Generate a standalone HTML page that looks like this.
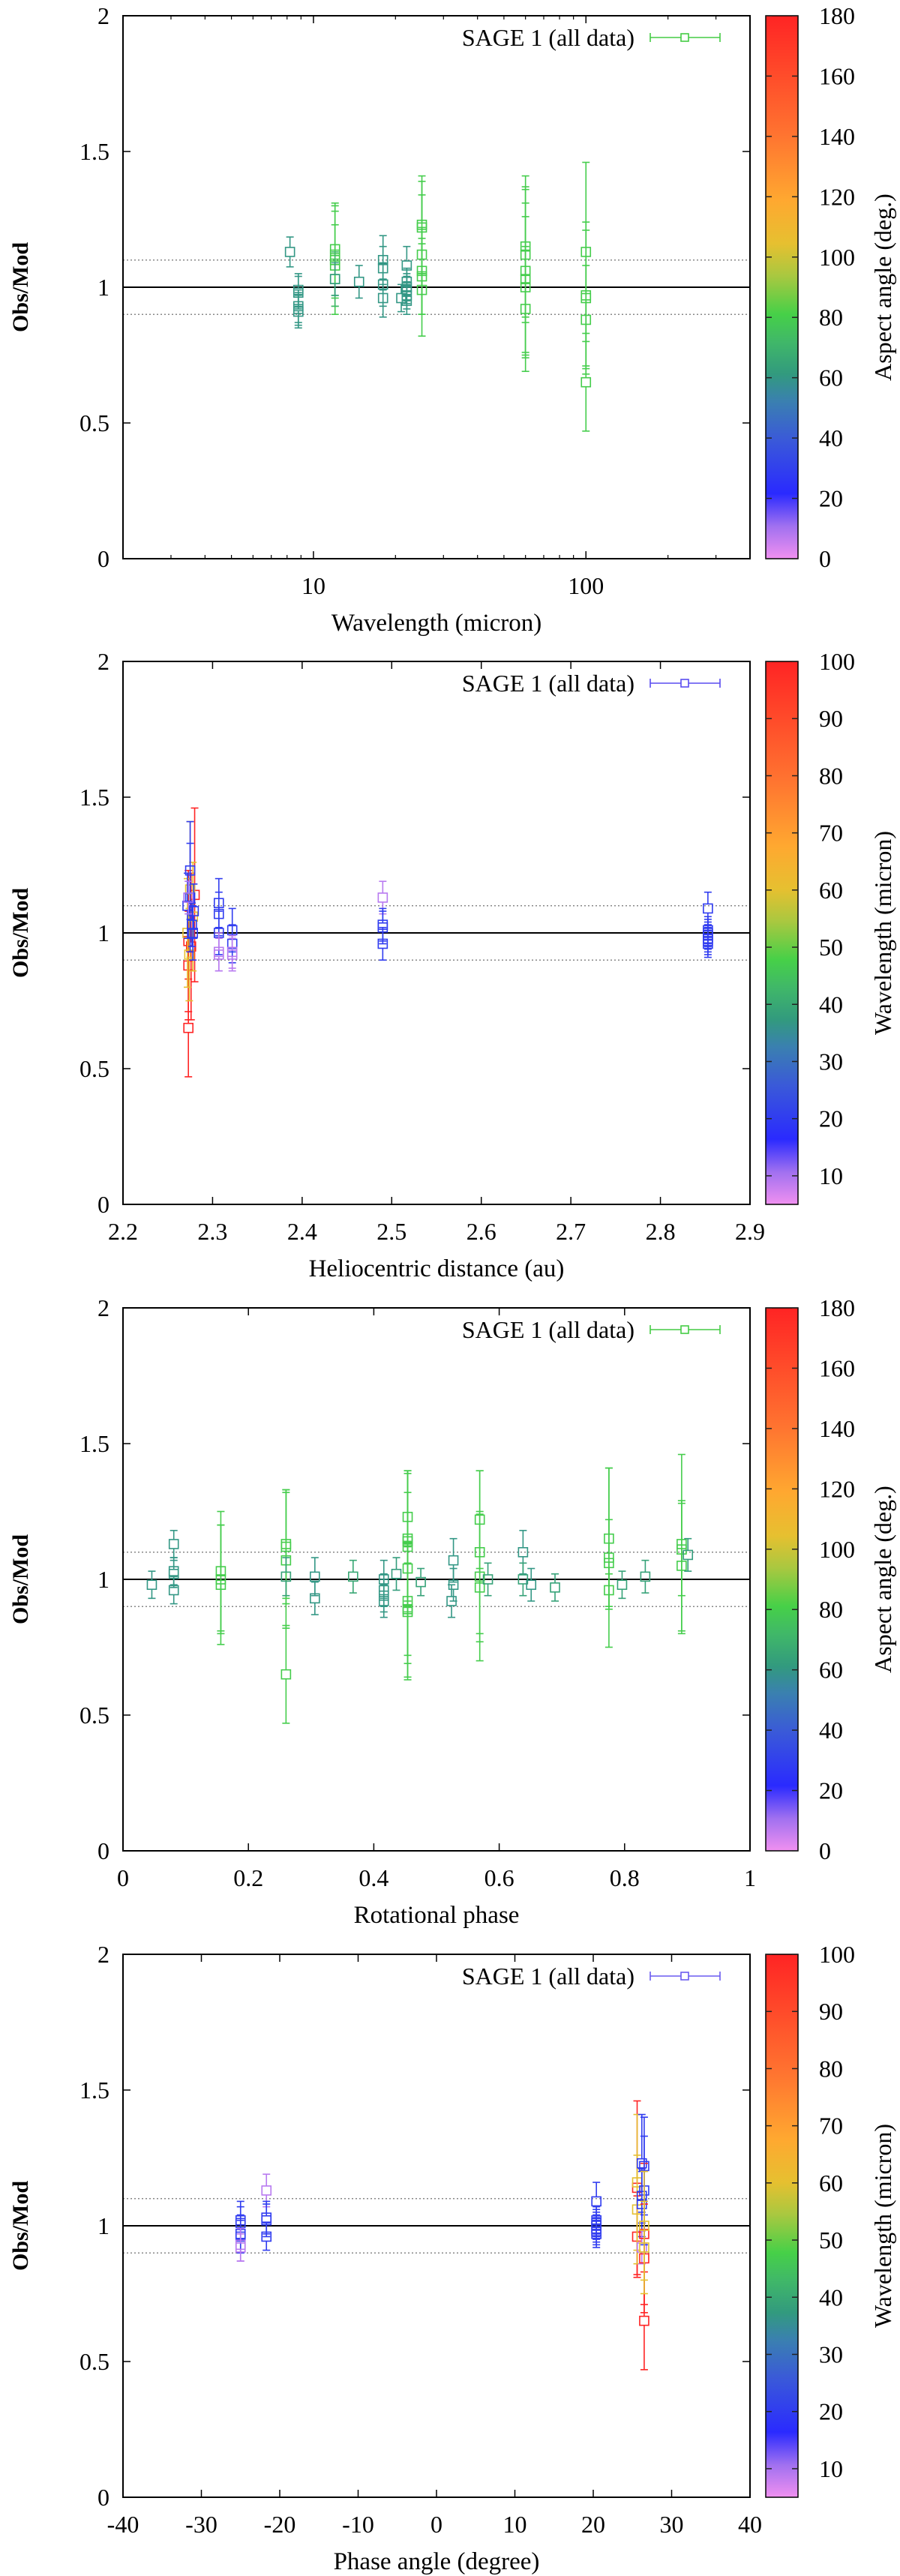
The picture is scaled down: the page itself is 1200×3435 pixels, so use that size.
<!DOCTYPE html>
<html><head><meta charset="utf-8"><style>
html,body{margin:0;padding:0;background:#fff}
svg{display:block}
text{font-family:"Liberation Serif",serif;fill:#000}
</style></head><body>
<svg id="fig" width="1200" height="3435" viewBox="0 0 1200 3435" xmlns="http://www.w3.org/2000/svg">
<defs>
<linearGradient id="cmap" x1="0" y1="1" x2="0" y2="0">
<stop offset="0" stop-color="#f090f0"/><stop offset="0.06" stop-color="#a070f0"/>
<stop offset="0.12" stop-color="#2a2aff"/><stop offset="0.22" stop-color="#3a5ad8"/>
<stop offset="0.29" stop-color="#3a80b0"/><stop offset="0.34" stop-color="#329a7e"/>
<stop offset="0.40" stop-color="#40b868"/><stop offset="0.45" stop-color="#46d048"/>
<stop offset="0.52" stop-color="#a8c840"/><stop offset="0.58" stop-color="#e6c030"/>
<stop offset="0.66" stop-color="#ffa830"/><stop offset="0.78" stop-color="#ff7430"/>
<stop offset="1" stop-color="#ff2424"/>
</linearGradient>
</defs>
</svg>
<script>
// Panel 1: wavelength vs Obs/Mod, colour = aspect angle
const p1_x=[8.2,8.8,8.8,8.8,8.8,8.8,12,12,12,12,12,12,14.7,18,18,18,18,21,22,22,22,22,22,22,25,25,25,25,25,25,60,60,60,60,60,60,100,100,100,100,100];
const p1_y=[1.13,0.98,0.99,0.93,0.92,0.91,1.14,1.12,1.10,1.08,1.03,1.03,1.02,1.10,1.07,1.01,0.96,0.96,1.08,1.02,1.0,0.99,0.97,0.95,1.23,1.22,1.12,1.06,1.04,0.99,1.15,1.12,1.06,1.03,1.0,0.92,1.13,0.97,0.96,0.88,0.65];
const p1_e=[0.055,0.06,0.06,0.06,0.06,0.06,0.17,0.16,0.2,0.15,0.1,0.06,0.06,0.09,0.08,0.08,0.07,0.05,0.07,0.05,0.05,0.05,0.05,0.05,0.18,0.17,0.22,0.16,0.14,0.17,0.26,0.25,0.3,0.28,0.26,0.23,0.33,0.27,0.25,0.2,0.18];
const p1_c=[60,60,60,60,60,60,80,80,80,80,72,62,60,60,60,60,60,60,60,60,60,60,60,60,80,80,80,80,80,80,80,80,80,80,80,80,80,80,80,80,80];
// Panel 2: heliocentric distance, colour = wavelength
const p2_x=[2.273,2.273,2.273,2.276,2.28,2.275,2.278,2.274,2.272,2.275,2.275,2.272,2.279,2.277,2.278,2.273,2.307,2.307,2.307,2.307,2.307,2.322,2.322,2.322,2.322,2.49,2.49,2.49,2.49,2.853,2.853,2.853,2.853,2.853,2.853,2.853];
const p2_y=[0.65,0.88,0.97,0.95,1.14,1.16,1.06,0.92,1.0,1.23,1.13,1.1,1.08,1.03,1.0,1.13,1.11,1.07,1.0,0.93,0.92,1.01,0.96,0.93,0.92,1.13,1.03,1.02,0.96,1.09,1.01,1.0,0.99,0.98,0.97,0.96];
const p2_e=[0.18,0.2,0.26,0.27,0.32,0.25,0.2,0.17,0.2,0.18,0.2,0.12,0.1,0.08,0.1,0.06,0.09,0.08,0.08,0.07,0.06,0.08,0.07,0.06,0.06,0.06,0.06,0.06,0.06,0.06,0.05,0.05,0.05,0.05,0.05,0.05];
const p2_c=[100,100,100,100,100,60,60,60,60,20,20,20,20,20,20,10,20,20,20,9,9,20,20,9,9,9,20,20,20,20,20,20,20,20,20,20];
// Panel 3: rotational phase, colour = aspect angle
const p3_x=[0.046,0.081,0.081,0.081,0.081,0.156,0.156,0.156,0.26,0.26,0.26,0.26,0.26,0.306,0.306,0.367,0.416,0.416,0.416,0.416,0.436,0.454,0.454,0.454,0.454,0.454,0.454,0.454,0.454,0.475,0.524,0.527,0.527,0.569,0.569,0.569,0.569,0.582,0.638,0.638,0.651,0.689,0.775,0.775,0.775,0.775,0.796,0.833,0.891,0.891,0.891,0.901];
const p3_y=[0.98,1.13,1.03,1.02,0.96,1.03,1.0,0.98,1.13,1.12,1.07,1.01,0.65,1.01,0.93,1.01,1.0,0.96,0.94,0.92,1.02,1.23,1.15,1.14,1.12,1.04,0.92,0.89,0.88,0.99,0.92,1.07,0.98,1.22,1.10,1.01,0.97,1.0,1.10,1.0,0.98,0.97,1.15,1.08,1.06,0.96,0.98,1.01,1.13,1.11,1.05,1.09];
const p3_e=[0.05,0.05,0.05,0.05,0.05,0.22,0.2,0.22,0.2,0.21,0.25,0.07,0.18,0.07,0.06,0.06,0.07,0.06,0.06,0.06,0.06,0.17,0.25,0.26,0.2,0.35,0.2,0.25,0.25,0.05,0.06,0.08,0.06,0.18,0.3,0.24,0.27,0.06,0.08,0.06,0.06,0.05,0.26,0.33,0.16,0.06,0.05,0.06,0.33,0.17,0.24,0.06];
const p3_c=[60,60,60,60,60,80,80,80,80,80,80,64,80,60,60,66,60,60,60,60,62,80,80,80,80,80,80,80,80,64,60,60,60,80,80,80,80,64,60,64,60,64,80,80,80,80,64,64,80,80,80,62];
// Panel 4: phase angle, colour = wavelength
const p4_x=[-25,-25,-25,-25,-25,-25,-21.7,-21.7,-21.7,-21.7,20.4,20.4,20.4,20.4,20.4,20.4,20.4,25.6,25.6,25.6,25.6,26.2,26.2,26.2,26.2,26.5,26.5,26.5,26.5,26.5,26.5,26.5];
const p4_y=[1.02,1.01,0.97,0.96,0.93,0.92,1.13,1.03,1.02,0.96,1.09,1.02,1.01,1.0,0.99,0.98,0.97,0.96,1.14,1.16,1.06,1.23,1.11,1.08,0.92,0.65,0.88,0.97,1.22,1.13,1.0,0.92];
const p4_e=[0.07,0.06,0.07,0.06,0.06,0.05,0.06,0.06,0.06,0.05,0.07,0.05,0.05,0.05,0.05,0.05,0.05,0.15,0.32,0.25,0.2,0.18,0.1,0.12,0.06,0.18,0.2,0.26,0.18,0.2,0.2,0.17];
const p4_c=[20,20,20,20,9,9,9,20,20,20,20,20,20,20,20,20,20,100,100,60,60,20,20,20,9,100,100,100,20,20,60,60];

const stops=[[0,[240,144,240]],[0.06,[160,112,240]],[0.12,[42,42,255]],[0.22,[58,90,216]],[0.29,[58,128,176]],[0.34,[50,154,126]],[0.40,[64,184,104]],[0.45,[70,208,72]],[0.52,[168,200,64]],[0.58,[230,192,48]],[0.66,[255,168,48]],[0.78,[255,116,48]],[1,[255,36,36]]];
function cmap(f){f=Math.max(0,Math.min(1,f));for(let i=1;i<stops.length;i++){if(f<=stops[i][0]){const a=stops[i-1],b=stops[i];const t=(f-a[0])/(b[0]-a[0]);const c=a[1].map((v,k)=>Math.round(v+(b[1][k]-v)*t));return `rgb(${c[0]},${c[1]},${c[2]})`;}}return 'rgb(255,36,36)';}
const NS='http://www.w3.org/2000/svg';
const svg=document.getElementById('fig');
function el(tag,attrs,parent){const e=document.createElementNS(NS,tag);for(const k in attrs)e.setAttribute(k,attrs[k]);(parent||svg).appendChild(e);return e;}

const L=164,R=1000,H=724,CBL=1021,CBR=1064;
function panel(cfg){
  const T=cfg.top,B=T+H;
  const g=el('g',{});
  
  
  const X=cfg.xs, Y=v=>B-(v/2)*H;
  const ref=el('line',{x1:L,x2:R,y1:Y(1),y2:Y(1),stroke:'#000','stroke-width':2},g);
  
  
  [0.9,1.1].forEach(v=>{const d=el('line',{x1:L,x2:R,y1:Y(v),y2:Y(v),stroke:'#888','stroke-width':1.5,'stroke-dasharray':'2,3'},g);
    
    });
  const n=cfg.x.length;
  for(let i=0;i<n;i++){
    const px=X(cfg.x[i]),py=Y(cfg.y[i]),e=cfg.e[i];
    const col=cmap((cfg.c[i]-cfg.cmin)/(cfg.cmax-cfg.cmin));
    const pt=el('g',{stroke:col,'stroke-width':1.6,fill:'none'},g);
    
    
    const y1=Y(cfg.y[i]+e),y2=Y(cfg.y[i]-e);
    el('line',{x1:px,x2:px,y1:y1,y2:py-6},pt);
    el('line',{x1:px,x2:px,y1:py+6,y2:y2},pt);
    el('line',{x1:px-5,x2:px+5,y1:y1,y2:y1},pt);
    el('line',{x1:px-5,x2:px+5,y1:y2,y2:y2},pt);
    el('rect',{x:px-6,y:py-6,width:12,height:12},pt);
  }
  const fr=el('rect',{x:L,y:T,width:R-L,height:H,fill:'none',stroke:'#000','stroke-width':2},g);
  
  
  [0,0.5,1,1.5,2].forEach(v=>{
    el('line',{x1:L,x2:L+10,y1:Y(v),y2:Y(v),stroke:'#000','stroke-width':1.5},g);
    el('line',{x1:R,x2:R-10,y1:Y(v),y2:Y(v),stroke:'#000','stroke-width':1.5},g);
    const t=el('text',{x:146,y:Y(v)+11,'text-anchor':'end','font-size':32},g);t.textContent=String(v);
    
    
  });
  cfg.xticks.forEach((v,k)=>{
    const px=X(v);
    el('line',{x1:px,x2:px,y1:B,y2:B-10,stroke:'#000','stroke-width':1.5},g);
    el('line',{x1:px,x2:px,y1:T,y2:T+10,stroke:'#000','stroke-width':1.5},g);
    const t=el('text',{x:px,y:B+47,'text-anchor':'middle','font-size':32},g);t.textContent=cfg.xlabels[k];
    
    
  });
  (cfg.minor||[]).forEach(v=>{const px=X(v);
    el('line',{x1:px,x2:px,y1:B,y2:B-5,stroke:'#000','stroke-width':1.2},g);
    el('line',{x1:px,x2:px,y1:T,y2:T+5,stroke:'#000','stroke-width':1.2},g);});
  const xt=el('text',{x:(L+R)/2,y:B+96,'text-anchor':'middle','font-size':33},g);xt.textContent=cfg.xtitle;
  
  
  const yt=el('text',{x:0,y:0,'text-anchor':'middle','font-size':30,'font-weight':'bold',transform:`translate(37,${T+H/2}) rotate(-90)`},g);yt.textContent='Obs/Mod';
  
  
  const lg=el('g',{},g);
  
  
  const lt=el('text',{x:846,y:T+40,'text-anchor':'end','font-size':32},lg);lt.textContent='SAGE 1 (all data)';
  const lc=cfg.legendColor;
  el('line',{x1:867,x2:960,y1:T+29,y2:T+29,stroke:lc,'stroke-width':1.6},lg);
  el('line',{x1:867,x2:867,y1:T+23,y2:T+35,stroke:lc,'stroke-width':1.6},lg);
  el('line',{x1:960,x2:960,y1:T+23,y2:T+35,stroke:lc,'stroke-width':1.6},lg);
  el('rect',{x:908,y:T+24,width:10,height:10,fill:'#fff',stroke:lc,'stroke-width':1.6},lg);
  const cb=el('g',{},g);
  
  
  el('rect',{x:CBL,y:T,width:CBR-CBL,height:H,fill:'url(#cmap)',stroke:'#000','stroke-width':1.5},cb);
  cfg.cticks.forEach(v=>{const py=B-(v-cfg.cmin)/(cfg.cmax-cfg.cmin)*H;
    el('line',{x1:CBL,x2:CBL+8,y1:py,y2:py,stroke:'#222','stroke-width':1.5},cb);
    el('line',{x1:CBR,x2:CBR-8,y1:py,y2:py,stroke:'#222','stroke-width':1.5},cb);
    const t=el('text',{x:1092,y:py+11,'font-size':32},cb);t.textContent=String(v);
    
    });
  const ct=el('text',{x:0,y:0,'text-anchor':'middle','font-size':32,transform:`translate(1188,${T+H/2}) rotate(-90)`},cb);ct.textContent=cfg.ctitle;
  
  
}
const logX=v=>L+(Math.log10(v)-Math.log10(2))/(Math.log10(400)-Math.log10(2))*(R-L);
const linX=(a,b)=>v=>L+(v-a)/(b-a)*(R-L);
const ang=[0,20,40,60,80,100,120,140,160,180], wl=[10,20,30,40,50,60,70,80,90,100];
panel({name:'panel-wavelength',top:21,xs:logX,x:p1_x,y:p1_y,e:p1_e,c:p1_c,cmin:0,cmax:180,cticks:ang,ctitle:'Aspect angle (deg.)',
  xticks:[10,100],xlabels:['10','100'],minor:[2,3,4,5,6,7,8,9,20,30,40,50,60,70,80,90,200,300,400],xtitle:'Wavelength (micron)',legendColor:'#44cc44'});
panel({name:'panel-heliocentric',top:882,xs:linX(2.2,2.9),x:p2_x,y:p2_y,e:p2_e,c:p2_c,cmin:5,cmax:100,cticks:wl,ctitle:'Wavelength (micron)',
  xticks:[2.2,2.3,2.4,2.5,2.6,2.7,2.8,2.9],xlabels:['2.2','2.3','2.4','2.5','2.6','2.7','2.8','2.9'],xtitle:'Heliocentric distance (au)',legendColor:'#5a4cf0'});
panel({name:'panel-rotational',top:1744,xs:linX(0,1),x:p3_x,y:p3_y,e:p3_e,c:p3_c,cmin:0,cmax:180,cticks:ang,ctitle:'Aspect angle (deg.)',
  xticks:[0,0.2,0.4,0.6,0.8,1],xlabels:['0','0.2','0.4','0.6','0.8','1'],xtitle:'Rotational phase',legendColor:'#44cc44'});
panel({name:'panel-phase-angle',top:2606,xs:linX(-40,40),x:p4_x,y:p4_y,e:p4_e,c:p4_c,cmin:5,cmax:100,cticks:wl,ctitle:'Wavelength (micron)',
  xticks:[-40,-30,-20,-10,0,10,20,30,40],xlabels:['-40','-30','-20','-10','0','10','20','30','40'],xtitle:'Phase angle (degree)',legendColor:'#6a5cf0'});
</script>
</body></html>
